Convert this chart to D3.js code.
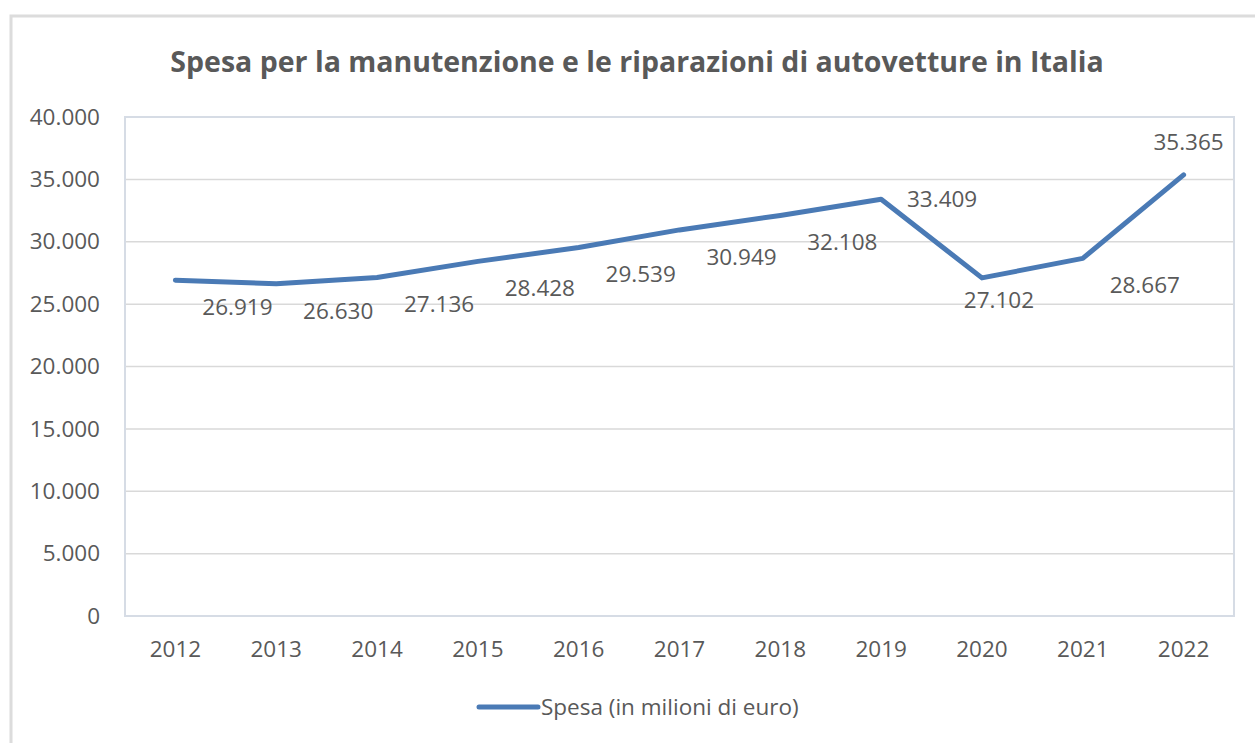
<html><head>
<title>Spesa manutenzione autovetture</title>
<script src="https://d3js.org/d3.v7.min.js"></script>
<style>
  body { margin: 0; background: #fff; }
  text { font-family: "Open Sans", "Noto Sans", sans-serif; fill: #595959; }
  line.grid { stroke: #d9d9d9; stroke-width: 1.5px; }
</style>
</head>
<body>
<svg id="chart" width="1255" height="743"></svg>
<script>
// Data
const years = ["2012","2013","2014","2015","2016","2017","2018","2019","2020","2021","2022"];
const spesa = [26919, 26630, 27136, 28428, 29539, 30949, 32108, 33409, 27102, 28667, 35365];
// where each value label sits relative to its point
const labelPlace = ["br","br","br","br","br","br","br","r","b","br","a"];
const yTicks = [0, 5000, 10000, 15000, 20000, 25000, 30000, 35000, 40000];

const svg = d3.select("#chart");
const width = +svg.attr("width");
const height = +svg.attr("height");

// outer chart border (Excel style)
svg.append("path")
   .attr("d", `M11,${height} V16 H${width}`)
   .attr("fill", "none")
   .attr("stroke", "#dcdcdc")
   .attr("stroke-width", 3);

const plot = { left: 125, right: 1234, top: 117, bottom: 616 };

const x = d3.scaleBand().domain(years).range([plot.left, plot.right]);
const y = d3.scaleLinear().domain([0, 40000]).range([plot.bottom, plot.top]);
const fmt = v => d3.format(",")(v).replace(/,/g, ".");
const fs = "22.5px";

// Title
svg.append("text")
   .attr("x", 637).attr("y", 72)
   .attr("text-anchor", "middle")
   .style("font-size", "28.5px")
   .style("font-weight", "bold")
   .text("Spesa per la manutenzione e le riparazioni di autovetture in Italia");

// gridlines
svg.append("g").selectAll("line").data(yTicks).join("line")
   .attr("class", "grid")
   .attr("x1", plot.left).attr("x2", plot.right)
   .attr("y1", d => y(d)).attr("y2", d => y(d));

// plot area sides
svg.append("rect")
   .attr("x", plot.left).attr("y", plot.top)
   .attr("width", plot.right - plot.left).attr("height", plot.bottom - plot.top)
   .attr("fill", "none").attr("stroke", "#d6dce5").attr("stroke-width", 2);

// y axis labels
const yAxis = svg.append("g")
   .attr("transform", `translate(${plot.left - 25},0)`)
   .call(d3.axisLeft(y).tickValues(yTicks).tickFormat(fmt).tickSize(0).tickPadding(0));
yAxis.select(".domain").remove();
yAxis.selectAll("text").style("font-size", fs).attr("fill", "#595959");

// x axis labels
const xAxis = svg.append("g")
   .attr("transform", `translate(0,${plot.bottom + 25})`)
   .call(d3.axisBottom(x).tickSize(0).tickPadding(0));
xAxis.select(".domain").remove();
xAxis.selectAll("text").style("font-size", fs).attr("fill", "#595959").attr("dy", "0.72em");

const cx = d => x(d) + x.bandwidth() / 2;

// line
const line = d3.line().x((d, i) => cx(years[i])).y(d => y(d));
svg.append("path")
   .datum(spesa)
   .attr("d", line)
   .attr("fill", "none")
   .attr("stroke", "#4a7ab5")
   .attr("stroke-width", 5)
   .attr("stroke-linejoin", "round")
   .attr("stroke-linecap", "round");

// value labels
const offsets = {
  br: { dx: 62, dy: 27 },
  r:  { dx: 61, dy: 0 },
  b:  { dx: 17, dy: 22 },
  a:  { dx: 5,  dy: -33 }
};
svg.append("g").selectAll("text").data(spesa).join("text")
   .attr("x", (d, i) => cx(years[i]) + offsets[labelPlace[i]].dx)
   .attr("y", (d, i) => y(d) + offsets[labelPlace[i]].dy)
   .attr("dy", "0.35em")
   .attr("text-anchor", "middle")
   .style("font-size", fs)
   .text(fmt);

// legend
const legend = svg.append("g").attr("transform", "translate(479,707)");
legend.append("line")
   .attr("x1", 0).attr("x2", 59)
   .attr("stroke", "#4a7ab5").attr("stroke-width", 5).attr("stroke-linecap", "round");
legend.append("text")
   .attr("x", 62).attr("dy", "0.35em")
   .style("font-size", fs)
   .text("Spesa (in milioni di euro)");
</script>
</body>
</html>
